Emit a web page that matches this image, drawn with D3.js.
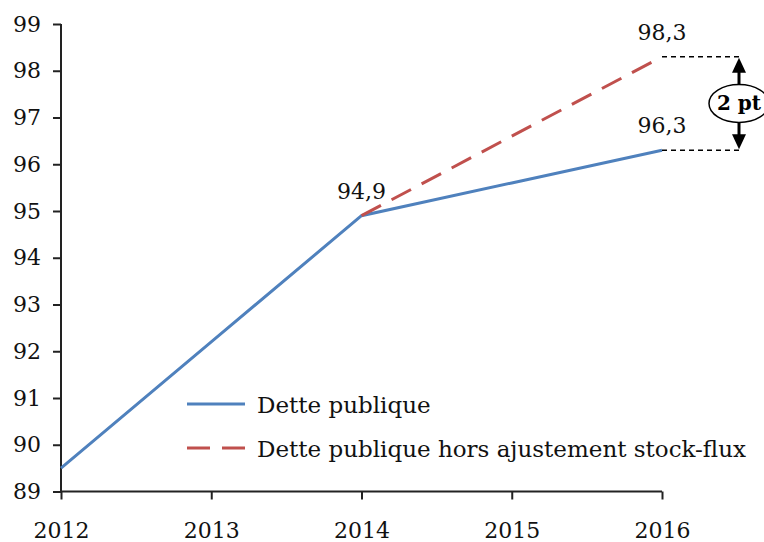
<!DOCTYPE html>
<html><head><meta charset="utf-8">
<script src="https://cdn.jsdelivr.net/npm/d3@7"></script>
<style>body{margin:0;background:#fff;} svg{display:block;} svg text{font-family:"DejaVu Serif",serif !important;}</style>
</head><body>
<svg id="c" width="764" height="542"></svg>
<script>
const years = [2012, 2013, 2014, 2015, 2016];
const detteValues = [89.5, 92.2, 94.9, 95.6, 96.3];
const horsYears = [2014, 2015, 2016];
const horsValues = [94.9, 96.6, 98.3];
const yTicks = [89, 90, 91, 92, 93, 94, 95, 96, 97, 98, 99];
const seriesNames = ["Dette publique", "Dette publique hors ajustement stock-flux"];
const labels = [{year: 2014, value: 94.9, text: "94,9"}, {year: 2016, value: 98.3, text: "98,3"}, {year: 2016, value: 96.3, text: "96,3"}];
const gapText = "2 pt";

const svg = d3.select("#c");
const x = d3.scaleLinear().domain([2012, 2016]).range([61, 662]);
const y = d3.scaleLinear().domain([89, 99]).range([491.5, 24]);
const fs = 22;

const yAxis = svg.append("g").attr("transform", "translate(61,0)")
  .call(d3.axisLeft(y).tickValues(yTicks).tickSize(8).tickPadding(12).tickFormat(d3.format("d")));
const xAxis = svg.append("g").attr("transform", "translate(0,491.5)")
  .call(d3.axisBottom(x).tickValues(years).tickSize(8).tickPadding(23).tickFormat(d3.format("d")));
[yAxis, xAxis].forEach(g => {
  g.attr("font-family", null);
  g.select(".domain").attr("stroke", "#222").attr("stroke-width", 2);
  g.selectAll(".tick line").attr("stroke", "#222").attr("stroke-width", 2);
  g.selectAll(".tick text").attr("fill", "#111").style("font-size", fs + "px");
});
yAxis.select(".domain").attr("d", "M0," + y(99) + "V" + y(89));
xAxis.select(".domain").attr("d", "M" + x(2012) + ",0H" + x(2016));

const line = d3.line().x(d => x(d[0])).y(d => y(d[1]));
svg.append("path").datum(years.map((yr, i) => [yr, detteValues[i]]))
  .attr("d", line).attr("fill", "none").attr("stroke", "#4F81BD").attr("stroke-width", 3);
svg.append("path").datum(horsYears.map((yr, i) => [yr, horsValues[i]]))
  .attr("d", line).attr("fill", "none").attr("stroke", "#C0504D").attr("stroke-width", 3)
  .attr("stroke-dasharray", "22,12");

labels.forEach(l => {
  svg.append("text").attr("x", x(l.year)).attr("y", y(l.value) - 17)
    .attr("text-anchor", "middle").attr("fill", "#111").style("font-size", fs + "px").text(l.text);
});

const ax = 739;
const yTop = y(98.3), yBot = y(96.3);
[yTop, yBot].forEach(yy => {
  svg.append("line").attr("x1", x(2016)).attr("x2", ax + 4).attr("y1", yy).attr("y2", yy)
    .attr("stroke", "#000").attr("stroke-width", 1.3).attr("stroke-dasharray", "5,4");
});
svg.append("line").attr("x1", ax).attr("x2", ax).attr("y1", yTop + 10).attr("y2", yBot - 10)
  .attr("stroke", "#000").attr("stroke-width", 3);
svg.append("path").attr("d", `M${ax},${yTop + 1}L${ax - 7},${yTop + 16}L${ax + 7},${yTop + 16}Z`).attr("fill", "#000");
svg.append("path").attr("d", `M${ax},${yBot - 1}L${ax - 7},${yBot - 16}L${ax + 7},${yBot - 16}Z`).attr("fill", "#000");
const my = (yTop + yBot) / 2;
svg.append("ellipse").attr("cx", ax).attr("cy", my).attr("rx", 30).attr("ry", 19)
  .attr("fill", "#fff").attr("stroke", "#000").attr("stroke-width", 1.5);
svg.append("text").attr("x", ax).attr("y", my + 7).attr("text-anchor", "middle")
  .style("font-size", "20px").style("font-weight", "bold").text(gapText);

const lg = svg.append("g");
lg.append("line").attr("x1", 187).attr("x2", 245).attr("y1", 404).attr("y2", 404)
  .attr("stroke", "#4F81BD").attr("stroke-width", 3);
lg.append("line").attr("x1", 187).attr("x2", 245).attr("y1", 448).attr("y2", 448)
  .attr("stroke", "#C0504D").attr("stroke-width", 3).attr("stroke-dasharray", "23,12");
lg.append("text").attr("x", 257).attr("y", 413).attr("fill", "#111").style("font-size", "23px").text(seriesNames[0]);
lg.append("text").attr("x", 257).attr("y", 457).attr("fill", "#111").style("font-size", "23px").text(seriesNames[1]);
</script>
</body></html>
